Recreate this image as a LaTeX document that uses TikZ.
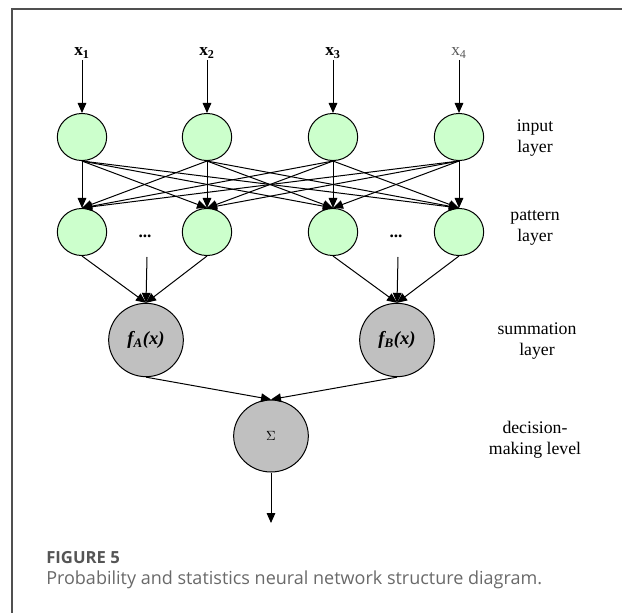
\documentclass[tikz,border=0pt]{standalone}
\usepackage{fontspec}
\setmainfont{Liberation Serif}
\setsansfont{Open Sans}
\usepackage{xcolor}
\usepackage{tikz}
\usetikzlibrary{positioning, arrows.meta, shapes.geometric}
\definecolor{leaf}{RGB}{204,255,204}
\definecolor{stone}{RGB}{192,192,192}
\definecolor{frame}{RGB}{80,80,80}
\definecolor{capgrey}{RGB}{105,105,105}
\definecolor{headgrey}{RGB}{85,85,85}

\begin{document}
\begin{tikzpicture}[
  x=0.75pt, y=-0.75pt,
  neuron/.style={ellipse, draw=black, fill=leaf, line width=0.75pt, inner sep=0pt,
                 minimum width=37pt, minimum height=35.3pt},
  summer/.style={ellipse, draw=black, fill=stone, line width=0.75pt, inner sep=0pt,
                 minimum width=56pt, minimum height=55pt,
                 font=\fontsize{14}{16}\selectfont\bfseries\itshape},
  tag/.style={font=\fontsize{13.3}{15.8}\selectfont, align=center},
  inlab/.style={font=\fontsize{13}{15}\selectfont, inner sep=1pt},
  flow/.style={-{Triangle[length=7.5pt, width=6.5pt]}, line width=0.75pt}]

  \useasboundingbox (0,0) rectangle (622,613);
  \draw[frame, line width=1.2pt] (12,613) -- (12,9) -- (622,9);

  % --- inputs and input layer
  \node[inlab] (x1) at ( 82, 53) {\textbf{x}\textsubscript{\textbf{1}}};
  \node[inlab] (x2) at (207, 53) {\textbf{x}\textsubscript{\textbf{2}}};
  \node[inlab] (x3) at (333, 53) {\textbf{x}\textsubscript{\textbf{3}}};
  \node[inlab, text=black!65] (x4) at (459, 53) {x\textsubscript{4}};
  \foreach \n/\x in {1/82, 2/207, 3/333, 4/459} {
    \node[neuron] (in\n) at (\x, 137) {};
    \node[neuron] (pt\n) at (\x, 232) {};
    \draw[flow] (x\n) -- (in\n);
  }
  \foreach \a in {1,...,4}
    \foreach \b in {1,...,4}
      \draw[flow] (in\a.south) -- (pt\b.north);

  % --- pattern layer to summation layer
  \node[font=\fontsize{13}{15}\selectfont\bfseries] (dotA) at (145, 236) {...};
  \node[font=\fontsize{13}{15}\selectfont\bfseries] (dotB) at (396, 236) {...};
  \coordinate (dA) at (147, 257);
  \coordinate (dB) at (398, 257);
  \node[summer] (fa) at (146, 340) {f\textsubscript{A}(x)};
  \node[summer] (fb) at (397, 340) {f\textsubscript{B}(x)};
  \draw[flow] (pt1.south) -- (fa.north);
  \draw[flow] (pt2.south) -- (fa.north);
  \draw[flow] (dA) -- (fa.north);
  \draw[flow] (pt3.south) -- (fb.north);
  \draw[flow] (pt4.south) -- (fb.north);
  \draw[flow] (dB) -- (fb.north);

  % --- decision
  \node[summer, minimum width=56pt, minimum height=54pt,
        font=\fontsize{10}{12}\selectfont] (sig) at (271, 436) {$\Sigma$};
  \coordinate (out) at (271, 523);
  \draw[flow] (fa.south) -- (sig.north);
  \draw[flow] (fb.south) -- (sig.north);
  \draw[flow] (sig.south) -- (out);

  % --- layer names
  \node[tag] (tin)  at (535, 138) {input\\layer};
  \node[tag] (tpt)  at (535, 228) {pattern\\layer};
  \node[tag] (tsum) at (537, 341) {summation\\layer};
  \node[tag] (tdec) at (535, 440) {decision-\\making level};

  % --- caption
  \node[anchor=west, font=\sffamily\bfseries\fontsize{12.5}{14}\selectfont, text=headgrey,
        inner sep=0pt] (fig) at (46, 558) {FIGURE 5};
  \node[anchor=west, font=\sffamily\fontsize{13.5}{16}\selectfont, text=capgrey,
        inner sep=0pt] (cap) at (46, 580)
    {Probability and statistics neural network structure diagram.};
\end{tikzpicture}
\end{document}
